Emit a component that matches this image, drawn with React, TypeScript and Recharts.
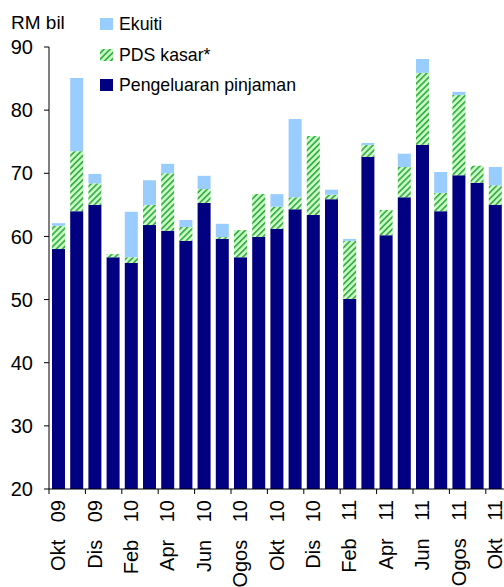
import React from 'react'
import {Bar, BarChart, XAxis, YAxis} from 'recharts'

const months = [
    'Okt 09', 'Nov 09', 'Dis 09', 'Jan 10', 'Feb 10', 'Mac 10', 'Apr 10', 'Mei 10', 'Jun 10',
    'Jul 10', 'Ogos 10', 'Sep 10', 'Okt 10', 'Nov 10', 'Dis 10', 'Jan 11', 'Feb 11', 'Mac 11',
    'Apr 11', 'Mei 11', 'Jun 11', 'Jul 11', 'Ogos 11', 'Sep 11', 'Okt 11'
]

// RM bil, bottom segment
const pinjaman = [
    58.0, 64.0, 65.0, 56.7, 55.8, 61.8, 60.9, 59.3, 65.3, 59.6, 56.7, 59.9, 61.2,
    64.3, 63.4, 65.9, 50.1, 72.6, 60.2, 66.2, 74.5, 64.0, 69.7, 68.5, 65.0
]
const pdsKasar = [
    3.7, 9.5, 3.4, 0.5, 0.9, 3.2, 9.1, 2.2, 2.2, 0.3, 4.3, 6.8, 3.5,
    1.9, 12.5, 0.7, 9.2, 1.9, 4.0, 4.8, 11.4, 2.9, 12.7, 2.7, 3.1
]
const ekuiti = [
    0.4, 11.6, 1.5, 0, 7.2, 3.9, 1.5, 1.1, 2.1, 2.1, 0, 0, 2.0,
    12.4, 0, 0.8, 0.3, 0.3, 0, 2.1, 2.2, 3.3, 0.5, 0, 2.9
]
const yTicks = [20, 30, 40, 50, 60, 70, 80, 90]

const NAVY = '#000080'
const LIGHT_BLUE = '#99CCFF'
const FONT = '"Liberation Sans", Arial, sans-serif'

const data = months.map((m, i) => ({
    month: m,
    pinjaman: pinjaman[i],
    pds: pdsKasar[i],
    ekuiti: ekuiti[i],
}))

const HALF_STEP = 9.1

const MonthTick = ({x, y, payload}: any) => (
    <g>
        <line x1={x - HALF_STEP} y1={y - 11} x2={x - HALF_STEP} y2={y - 6} stroke="#000"/>
        <text
            transform={`translate(${x + 7}, ${y}) rotate(-90)`}
            textAnchor="end"
            fontSize={20}
            fontFamily={FONT}
            fill="#000"
            style={{wordSpacing: 12}}
        >
            {payload.value}
        </text>
    </g>
)

const legendItems = [
    {name: 'Ekuiti', fill: LIGHT_BLUE, y: 24},
    {name: 'PDS kasar*', fill: 'url(#hatchLegend)', y: 55},
    {name: 'Pengeluaran pinjaman', fill: NAVY, y: 85},
]

const Hatch = ({id}: {id: string}) => (
    <pattern id={id} patternUnits="userSpaceOnUse" width={4.3} height={4.3} patternTransform="rotate(45)">
        <rect width={4.3} height={4.3} fill="#CCFFCC"/>
        <rect width={1.8} height={4.3} fill="#3CB043"/>
    </pattern>
)

export default function App() {
    return (
        <div style={{position: 'absolute', left: 0, top: 0, width: 504, height: 587, background: '#fff'}}>
            <svg width={0} height={0} style={{position: 'absolute'}}>
                <defs>
                    <Hatch id="hatchBar"/>
                </defs>
            </svg>
            <BarChart
                width={504}
                height={587}
                data={data}
                margin={{top: 47, right: 0, bottom: 0, left: 0}}
                barSize={13}
            >
                <XAxis
                    dataKey="month"
                    interval={1}
                    height={98}
                    tickSize={5}
                    tickMargin={6}
                    tickLine={false}
                    axisLine={{stroke: '#000'}}
                    tick={<MonthTick/>}
                />
                <YAxis
                    width={49}
                    domain={[20, 90]}
                    ticks={yTicks}
                    allowDataOverflow
                    tickSize={5}
                    tickMargin={11}
                    axisLine={{stroke: '#000'}}
                    tickLine={{stroke: '#000'}}
                    tick={{fontSize: 20, fontFamily: FONT, fill: '#000'}}
                />
                <Bar dataKey="pinjaman" stackId="a" fill={NAVY} isAnimationActive={false}/>
                <Bar dataKey="pds" stackId="a" fill="url(#hatchBar)" isAnimationActive={false}/>
                <Bar dataKey="ekuiti" stackId="a" fill={LIGHT_BLUE} isAnimationActive={false}/>
            </BarChart>

            {/* title + legend, sitting over the plot like the original */}
            <svg width={504} height={110} style={{position: 'absolute', left: 0, top: 0, pointerEvents: 'none'}}>
                <defs>
                    <Hatch id="hatchLegend"/>
                </defs>
                <text x={11} y={29} fontSize={19} fontFamily={FONT} fill="#000">RM bil</text>
                {legendItems.map(item => (
                    <g key={item.name}>
                        <rect x={100} y={item.y - 6} width={13} height={12} fill={item.fill}/>
                        <text x={119} y={item.y + 6} fontSize={17.7} fontFamily={FONT} fill="#000">{item.name}</text>
                    </g>
                ))}
            </svg>
        </div>
    )
}
